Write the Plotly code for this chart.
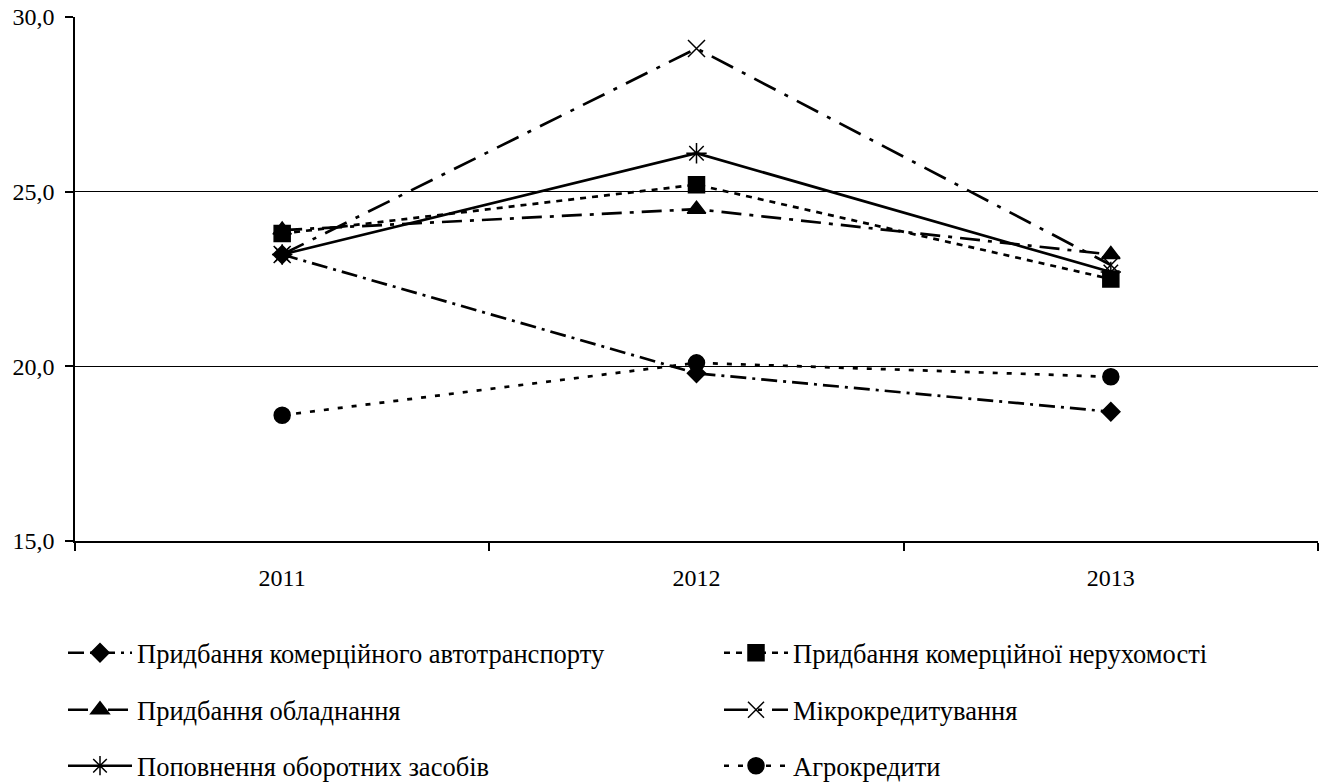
import plotly.graph_objects as go

years = ["2011", "2012", "2013"]
names = [
    "Придбання комерційного автотранспорту",
    "Придбання комерційної нерухомості",
    "Придбання обладнання",
    "Мікрокредитування",
    "Поповнення оборотних засобів",
    "Агрокредити",
]
auto_transport = [23.2, 19.8, 18.7]
real_estate = [23.8, 25.2, 22.5]
equipment = [23.9, 24.5, 23.2]
microcredit = [23.2, 29.1, 22.9]
working_capital = [23.2, 26.1, 22.7]
agro = [18.6, 20.1, 19.7]

series = [auto_transport, real_estate, equipment, microcredit, working_capital, agro]
dashes = ["16px,6px,3px,6px", "6px,6px", "20px,8px,4px,8px", "24px,10px,4px,10px", "solid", "5px,9px"]
symbols = ["diamond", "square", "triangle-up", "x-thin-open", "asterisk-open", "circle"]
sizes = [14, 16, 16, 17, 17, 16]
legend_ids = ["legend", "legend2", "legend3", "legend4", "legend5", "legend6"]
# legend positions (pixels in figure): column left x, row center y
leg_x = [63, 719, 63, 719, 63, 719]
leg_y = [653, 653, 710, 710, 766, 766]

FONT = "Liberation Serif"
W, H = 1324, 782
fig = go.Figure()
for vals, nm, d, s, sz, lg in zip(series, names, dashes, symbols, sizes, legend_ids):
    fig.add_trace(go.Scatter(
        x=years, y=vals, name=nm, mode="lines+markers",
        line=dict(color="black", width=2.7, dash=d),
        marker=dict(symbol=s, size=sz, color="black", line=dict(color="black", width=1.5)),
        legend=lg, showlegend=True,
    ))

legends = {}
for lg, lx, ly in zip(legend_ids, leg_x, leg_y):
    legends[lg] = dict(orientation="h", xref="container", yref="container",
                       x=lx / W, y=(H - ly) / H, xanchor="left", yanchor="middle",
                       itemwidth=64, font=dict(family=FONT, size=26.5, color="black"),
                       bgcolor="rgba(0,0,0,0)", visible=True)

fig.update_layout(
    width=W, height=H,
    showlegend=True,
    margin=dict(l=75, r=6, t=17, b=241, autoexpand=False),
    paper_bgcolor="white", plot_bgcolor="white",
    separators=", ",
    font=dict(family=FONT, size=24, color="black"),
    xaxis=dict(type="category", range=[-0.5, 2.5], tickson="boundaries", ticks="outside",
               ticklen=8, tickcolor="black", tickwidth=1.5, showline=True, linecolor="black",
               linewidth=1.5, showgrid=False, zeroline=False, ticklabelstandoff=14,
               automargin=False),
    yaxis=dict(range=[15, 30], dtick=5, tickformat=".1f", ticks="outside", ticklen=8,
               tickcolor="black", tickwidth=1.5, showline=True, linecolor="black", linewidth=1.5,
               showgrid=True, gridcolor="black", gridwidth=1, zeroline=False, ticklabelstandoff=6,
               automargin=False),
    **legends,
)
fig.write_html("out.html", config={"displayModeBar": False},
               post_script="document.body.style.margin='0';")
